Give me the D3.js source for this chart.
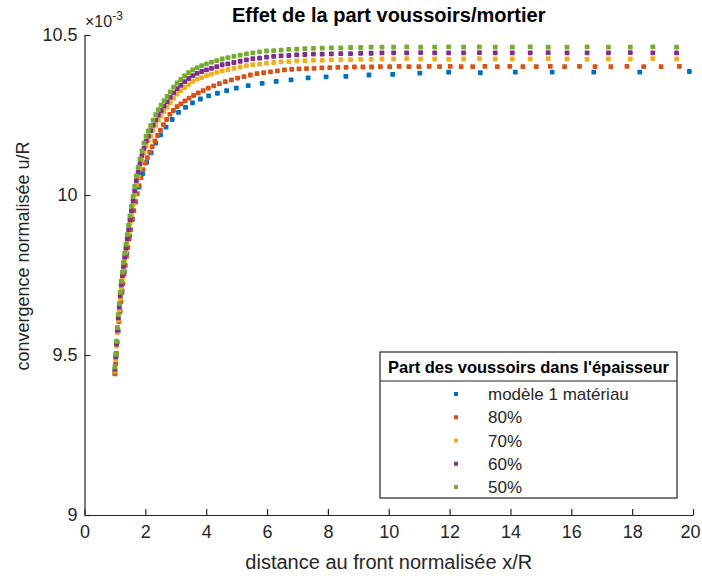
<!DOCTYPE html>
<html><head><meta charset="utf-8">
<script src="https://cdn.jsdelivr.net/npm/d3@7"></script>
<style>body{margin:0;background:#fff}svg{display:block}text{font-family:"Liberation Sans",Arial,Helvetica,sans-serif}</style>
</head><body>
<svg id="c" width="702" height="576"></svg>
<script>
// Shared x mesh for 70%, 60%, 50%
const xMesh = [1.000,1.026,1.053,1.082,1.112,1.143,1.175,1.209,1.245,1.282,1.321,1.362,1.405,1.449,1.496,1.545,1.596,1.649,1.705,1.763,1.824,1.888,1.955,2.025,2.098,2.175,2.255,2.339,2.426,2.518,2.614,2.714,2.819,2.929,3.044,3.164,3.289,3.421,3.558,3.702,3.852,4.009,4.174,4.346,4.526,4.714,4.911,5.117,
 5.322,5.534,5.754,5.982,6.218,6.462,6.714,6.975,7.245,7.525,7.814,8.113,8.423,8.744,9.076,9.420,9.776,
 10.16,10.59,11.05,11.51,11.97,12.46,12.98,13.50,14.06,14.65,15.24,15.86,16.52,17.22,17.94,18.68,19.46];
const y50 = [9.463,9.502,9.543,9.586,9.626,9.660,9.696,9.730,9.759,9.789,9.818,9.846,9.876,9.905,9.935,9.965,9.996,10.027,10.060,10.086,10.113,10.138,10.162,10.184,10.200,10.217,10.234,10.251,10.267,10.281,10.295,10.308,10.322,10.337,10.350,10.361,10.372,10.382,10.391,10.398,10.404,10.410,10.415,10.420,10.425,10.429,10.433,10.437,
 10.441,10.444,10.447,10.450,10.451,10.453,10.455,10.456,10.457,10.458,10.459,10.460,10.460,10.461,10.461,10.462,10.462,
 10.462,10.463,10.462,10.462,10.463,10.462,10.463,10.462,10.462,10.463,10.462,10.462,10.463,10.462,10.462,10.463,10.462];
const y60 = [9.455,9.494,9.534,9.577,9.616,9.650,9.685,9.719,9.748,9.777,9.806,9.834,9.863,9.892,9.922,9.951,9.982,10.013,10.045,10.071,10.098,10.123,10.146,10.168,10.184,10.201,10.218,10.234,10.250,10.264,10.278,10.291,10.305,10.319,10.332,10.343,10.354,10.364,10.373,10.380,10.386,10.391,10.396,10.401,10.407,10.410,10.414,10.418,
 10.422,10.426,10.428,10.431,10.433,10.435,10.436,10.438,10.439,10.440,10.440,10.441,10.442,10.442,10.443,10.443,10.444,
 10.444,10.444,10.445,10.444,10.444,10.444,10.445,10.444,10.444,10.444,10.445,10.444,10.444,10.444,10.445,10.444,10.444];
const y70 = [9.450,9.488,9.528,9.570,9.609,9.642,9.677,9.710,9.739,9.768,9.796,9.823,9.853,9.881,9.910,9.939,9.970,10.000,10.032,10.057,10.084,10.108,10.132,10.153,10.169,10.185,10.202,10.218,10.234,10.248,10.261,10.274,10.288,10.302,10.315,10.326,10.336,10.346,10.355,10.362,10.367,10.373,10.378,10.383,10.388,10.392,10.396,10.400,
 10.404,10.407,10.409,10.412,10.414,10.416,10.417,10.419,10.420,10.421,10.421,10.422,10.423,10.423,10.424,10.424,10.425,
 10.425,10.426,10.425,10.425,10.424,10.425,10.426,10.425,10.425,10.425,10.426,10.425,10.424,10.425,10.425,10.426,10.425];
// 80 %
const x80 = [1.000,1.024,1.049,1.076,1.104,1.133,1.164,1.196,1.230,1.265,1.302,1.341,1.382,1.425,1.470,1.518,1.568,1.620,1.675,1.733,1.794,1.858,1.925,1.995,2.069,2.146,2.227,2.313,2.402,2.496,2.595,2.699,2.808,2.922,3.042,3.168,3.301,3.440,3.586,3.739,3.900,4.069,4.247,4.433,4.629,
 4.829,5.033,5.241,5.453,5.669,5.889,6.113,6.341,6.573,6.810,7.051,7.297,7.547,7.802,8.062,8.327,8.597,8.872,9.152,9.437,9.727,
 10.03,10.34,10.66,10.99,11.33,11.67,12.02,12.38,12.76,13.16,13.57,13.98,14.41,14.85,15.31,15.78,16.27,16.78,17.30,17.83,18.38,18.95,19.55];
const y80 = [9.441,9.472,9.505,9.540,9.575,9.604,9.635,9.667,9.695,9.723,9.752,9.780,9.808,9.836,9.863,9.892,9.922,9.951,9.978,10.004,10.029,10.054,10.079,10.100,10.117,10.134,10.151,10.169,10.186,10.203,10.220,10.236,10.252,10.264,10.276,10.285,10.294,10.303,10.311,10.319,10.326,10.334,10.341,10.348,10.354,
 10.360,10.365,10.370,10.375,10.379,10.382,10.385,10.388,10.391,10.393,10.394,10.395,10.396,10.397,10.398,10.399,10.399,10.400,10.400,10.400,10.401,
 10.401,10.402,10.401,10.401,10.402,10.401,10.402,10.401,10.401,10.402,10.401,10.402,10.401,10.401,10.402,10.401,10.402,10.401,10.401,10.402,10.401,10.401,10.402];
// single-material model
const x1m = [1.00,1.04,1.10,1.165,1.234,1.31,1.39,1.48,1.575,1.68,1.79,1.91,2.04,2.19,2.34,2.50,2.68,2.88,3.09,3.32,3.55,3.81,4.08,4.37,4.67,4.99,5.38,5.84,6.30,6.79,7.35,7.94,8.59,9.35,10.13,11.02,11.97,13.01,14.16,15.37,16.74,18.25,19.88];
const y1m = [9.444,9.496,9.574,9.639,9.701,9.761,9.817,9.872,9.925,9.979,10.025,10.067,10.102,10.132,10.162,10.188,10.212,10.236,10.258,10.274,10.288,10.300,10.310,10.318,10.326,10.334,10.342,10.349,10.355,10.360,10.366,10.369,10.371,10.375,10.377,10.381,10.384,10.382,10.384,10.384,10.384,10.384,10.386];

const seriesNames = ["modèle 1 matériau","80%","70%","60%","50%"];
const seriesColors = ["#0072BD","#D95319","#EDB120","#7E2F8E","#77AC30"];
const xTicks = [0,2,4,6,8,10,12,14,16,18,20];
const yTicks = [9,9.5,10,10.5];
const title = "Effet de la part voussoirs/mortier";
const xLabel = "distance au front normalisée x/R";
const yLabel = "convergence normalisée u/R";
const legendTitle = "Part des voussoirs dans l'épaisseur";

const series = [
  {x:x1m, y:y1m}, {x:x80, y:y80}, {x:xMesh, y:y70}, {x:xMesh, y:y60}, {x:xMesh, y:y50}
].map((s,i)=>({name:seriesNames[i], color:seriesColors[i], pts:d3.zip(s.x,s.y)}));

const svg = d3.select("#c");
const ink = "#262626";
const L=84.5, R=693, T=35, B=515;
const x = d3.scaleLinear().domain([0,20]).range([L,R]);
const y = d3.scaleLinear().domain([9,10.5]).range([B,T]);

// axes
const gx = svg.append("g").attr("transform",`translate(0,${B})`)
  .call(d3.axisBottom(x).tickValues(xTicks).tickSizeInner(-6).tickSizeOuter(0).tickPadding(12).tickFormat(d3.format("d")));
const gy = svg.append("g").attr("transform",`translate(${L},0)`)
  .call(d3.axisLeft(y).tickValues(yTicks).tickSizeInner(-6).tickSizeOuter(0).tickPadding(7).tickFormat(d=>String(d)));
[gx,gy].forEach(g=>{
  g.selectAll("path.domain").attr("stroke",ink).attr("stroke-width",1.2);
  g.selectAll(".tick line").attr("stroke",ink).attr("stroke-width",1.2);
  g.selectAll(".tick text").attr("fill",ink).style("font-size","18px").style("font-family",'"Liberation Sans",Arial,sans-serif');
});
gx.selectAll(".tick text").attr("dy","0.62em");
// keep the last label inside the window
gx.selectAll(".tick text").filter(d=>d===20).attr("dx",-3);

// points
const ms = 4.8;
series.forEach(s=>{
  svg.append("g").selectAll("rect").data(s.pts).join("rect")
    .attr("x",d=>x(d[0])-ms/2).attr("y",d=>y(d[1])-ms/2)
    .attr("width",ms).attr("height",ms).attr("rx",0.8).attr("fill",s.color);
});

// exponent
const ex = svg.append("text").attr("x",85).attr("y",27).attr("fill",ink).style("font-size","16px");
ex.append("tspan").text("×10");
ex.append("tspan").attr("dy",-7).style("font-size","12px").text("-3");

// title
svg.append("text").attr("x",(L+R)/2).attr("y",22).attr("text-anchor","middle")
  .attr("fill","#000").style("font-size","20px").style("font-weight","bold").text(title);
// labels
svg.append("text").attr("x",(L+R)/2).attr("y",569).attr("text-anchor","middle")
  .attr("fill",ink).style("font-size","20px").text(xLabel);
svg.append("text").attr("transform",`translate(29,256) rotate(-90)`).attr("text-anchor","middle")
  .attr("fill",ink).style("font-size","18px").text(yLabel);

// legend
const lg = svg.append("g");
const lx0=380, lx1=677, ly0=352, ly1=498, lsep=381;
lg.append("rect").attr("x",lx0).attr("y",ly0).attr("width",lx1-lx0).attr("height",ly1-ly0)
  .attr("fill","#fff").attr("stroke",ink).attr("stroke-width",1.2);
lg.append("line").attr("x1",lx0).attr("x2",lx1).attr("y1",lsep).attr("y2",lsep).attr("stroke",ink).attr("stroke-width",1.2);
lg.append("text").attr("x",(lx0+lx1)/2).attr("y",373).attr("text-anchor","middle")
  .attr("fill","#000").style("font-size","16.5px").style("font-weight","bold").text(legendTitle);
const rowY = d3.scalePoint().domain(seriesNames).range([394,487]);
series.forEach(s=>{
  const cy = rowY(s.name);
  lg.append("rect").attr("x",456-2).attr("y",cy-2).attr("width",4).attr("height",4).attr("fill",s.color);
  lg.append("text").attr("x",488).attr("y",cy+6).attr("fill",ink).style("font-size","17px").text(s.name);
});
</script>
</body></html>
